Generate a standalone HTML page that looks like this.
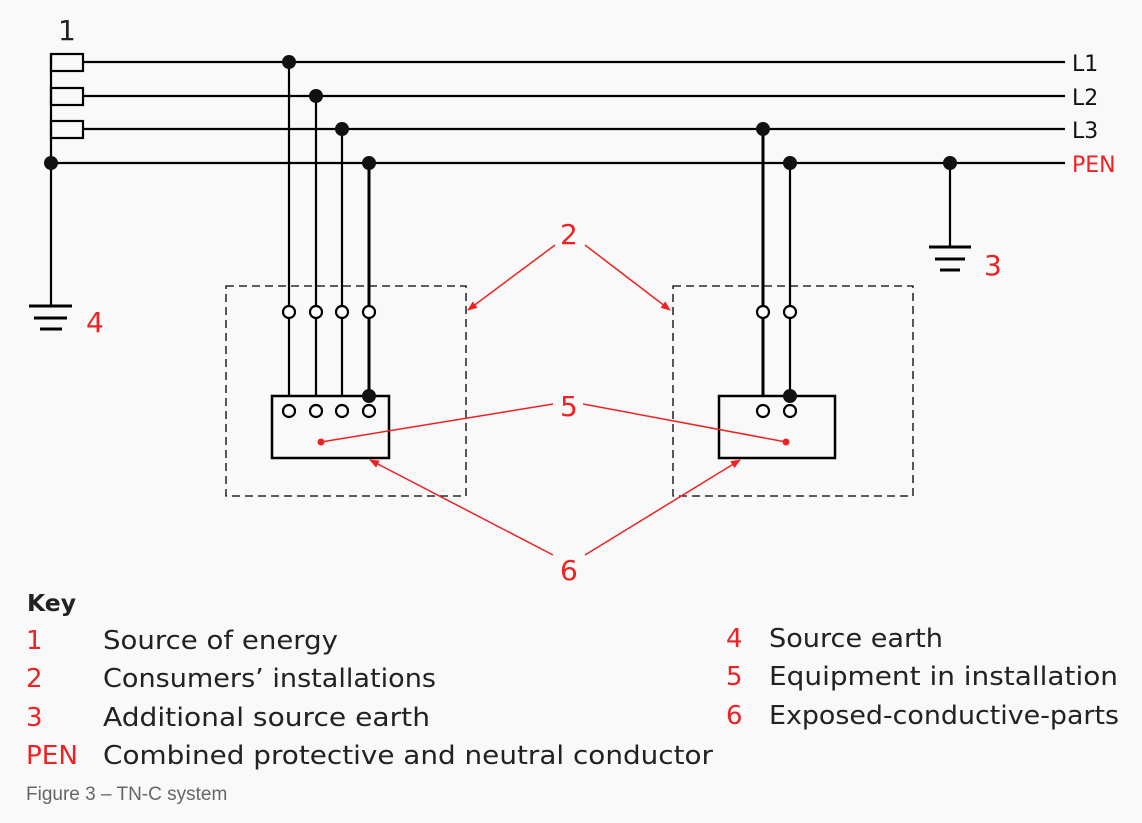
<!DOCTYPE html>
<html><head><style>
body{margin:0;background:#f9f9f9;}
svg{display:block}
.t{font-family:"DejaVu Sans","Liberation Sans",sans-serif;}
</style></head><body>
<svg width="1142" height="823" viewBox="0 0 1142 823" xmlns="http://www.w3.org/2000/svg">
<rect width="1142" height="823" fill="#f9f9f9"/>
<g stroke="#000" stroke-width="2.2" fill="none">
<rect x="51" y="54" width="32" height="17"/>
<rect x="51" y="88" width="32" height="17"/>
<rect x="51" y="121" width="32" height="17"/>
<line x1="51" y1="54" x2="51" y2="306"/>
<line x1="83" y1="62" x2="1065" y2="62"/>
<line x1="83" y1="96" x2="1065" y2="96"/>
<line x1="83" y1="129" x2="1065" y2="129"/>
<line x1="51" y1="163" x2="1065" y2="163"/>
<line x1="29" y1="306" x2="72" y2="306" stroke-width="3"/>
<line x1="34" y1="318" x2="67" y2="318" stroke-width="3"/>
<line x1="40" y1="329" x2="62" y2="329" stroke-width="3"/>
<line x1="289" y1="62" x2="289" y2="396"/>
<line x1="316" y1="96" x2="316" y2="396"/>
<line x1="342" y1="129" x2="342" y2="396"/>
<line x1="369" y1="163" x2="369" y2="396" stroke-width="3"/>
<line x1="763" y1="129" x2="763" y2="396" stroke-width="3"/>
<line x1="790" y1="163" x2="790" y2="396"/>
<line x1="950" y1="163" x2="950" y2="247"/>
<line x1="929" y1="247" x2="971" y2="247" stroke-width="3"/>
<line x1="935" y1="259" x2="965" y2="259" stroke-width="3"/>
<line x1="940" y1="270" x2="960" y2="270" stroke-width="3"/>
<rect x="272" y="396" width="117" height="62" stroke-width="2.5"/>
<rect x="719" y="396" width="116" height="62" stroke-width="2.5"/>
<g stroke-width="1.3" stroke-dasharray="8,5">
<rect x="226" y="286" width="240" height="210"/>
<rect x="673" y="286" width="240" height="210"/>
</g>
</g>
<g fill="#111">
<circle cx="289" cy="62" r="7"/><circle cx="316" cy="96" r="7"/><circle cx="342" cy="129" r="7"/><circle cx="369" cy="163" r="7"/>
<circle cx="51" cy="163" r="7"/><circle cx="763" cy="129" r="7"/><circle cx="790" cy="163" r="7"/><circle cx="950" cy="163" r="7"/>
<circle cx="369" cy="396" r="7"/><circle cx="790" cy="396" r="7"/>
</g>
<g fill="#fff" stroke="#000" stroke-width="2.2">
<circle cx="289" cy="312" r="6"/><circle cx="316" cy="312" r="6"/><circle cx="342" cy="312" r="6"/><circle cx="369" cy="312" r="6"/>
<circle cx="289" cy="411" r="6"/><circle cx="316" cy="411" r="6"/><circle cx="342" cy="411" r="6"/><circle cx="369" cy="411" r="6"/>
<circle cx="763" cy="312" r="6"/><circle cx="790" cy="312" r="6"/>
<circle cx="763" cy="411" r="6"/><circle cx="790" cy="411" r="6"/>
</g>
<defs><marker id="a" markerWidth="10" markerHeight="8" refX="9" refY="4" orient="auto" markerUnits="userSpaceOnUse"><path d="M0,0L10,4L0,8z" fill="#e22"/></marker></defs>
<g stroke="#e22" stroke-width="1.5" fill="none">
<line x1="555" y1="245" x2="468" y2="310" marker-end="url(#a)"/>
<line x1="585" y1="245" x2="670" y2="310" marker-end="url(#a)"/>
<line x1="553" y1="404" x2="321" y2="442"/>
<line x1="583" y1="404" x2="786" y2="442"/>
<line x1="553" y1="555" x2="370" y2="460" marker-end="url(#a)"/>
<line x1="585" y1="555" x2="740" y2="460" marker-end="url(#a)"/>
</g>
<circle cx="321" cy="442" r="3.5" fill="#e22"/><circle cx="786" cy="442" r="3.5" fill="#e22"/>
<g class="t" font-size="28" fill="#e22">
<text x="86" y="332">4</text>
<text x="984" y="275">3</text>
<text x="560" y="244">2</text>
<text x="560" y="416">5</text>
<text x="560" y="580">6</text>
</g>
<text class="t" x="58" y="40" font-size="28" fill="#222">1</text>
<g class="t" font-size="22" fill="#111">
<text x="1072" y="71">L1</text><text x="1072" y="105">L2</text><text x="1072" y="138">L3</text>
<text x="1072" y="172" fill="#e22">PEN</text>
</g>
<g font-family="'DejaVu Sans','Liberation Sans',sans-serif" font-size="26" fill="#222">
<text x="27" y="611" font-weight="bold" font-size="23" textLength="49" lengthAdjust="spacingAndGlyphs">Key</text>
<g fill="#e22"><text x="26" y="649">1</text><text x="26" y="687">2</text><text x="26" y="726">3</text><text x="26" y="764" textLength="52" lengthAdjust="spacingAndGlyphs">PEN</text>
<text x="726" y="647">4</text><text x="726" y="685">5</text><text x="726" y="724">6</text></g>
<text x="103" y="649" textLength="235" lengthAdjust="spacingAndGlyphs">Source of energy</text>
<text x="103" y="687" textLength="333" lengthAdjust="spacingAndGlyphs">Consumers’ installations</text>
<text x="103" y="726" textLength="327" lengthAdjust="spacingAndGlyphs">Additional source earth</text>
<text x="103" y="764" textLength="610" lengthAdjust="spacingAndGlyphs">Combined protective and neutral conductor</text>
<text x="769" y="647" textLength="174" lengthAdjust="spacingAndGlyphs">Source earth</text>
<text x="769" y="685" textLength="349" lengthAdjust="spacingAndGlyphs">Equipment in installation</text>
<text x="769" y="724" textLength="350" lengthAdjust="spacingAndGlyphs">Exposed-conductive-parts</text>
</g>
<text x="26" y="800" font-family="'Liberation Sans',sans-serif" font-size="19" fill="#666">Figure 3 – TN-C system</text>
</svg>
</body></html>
